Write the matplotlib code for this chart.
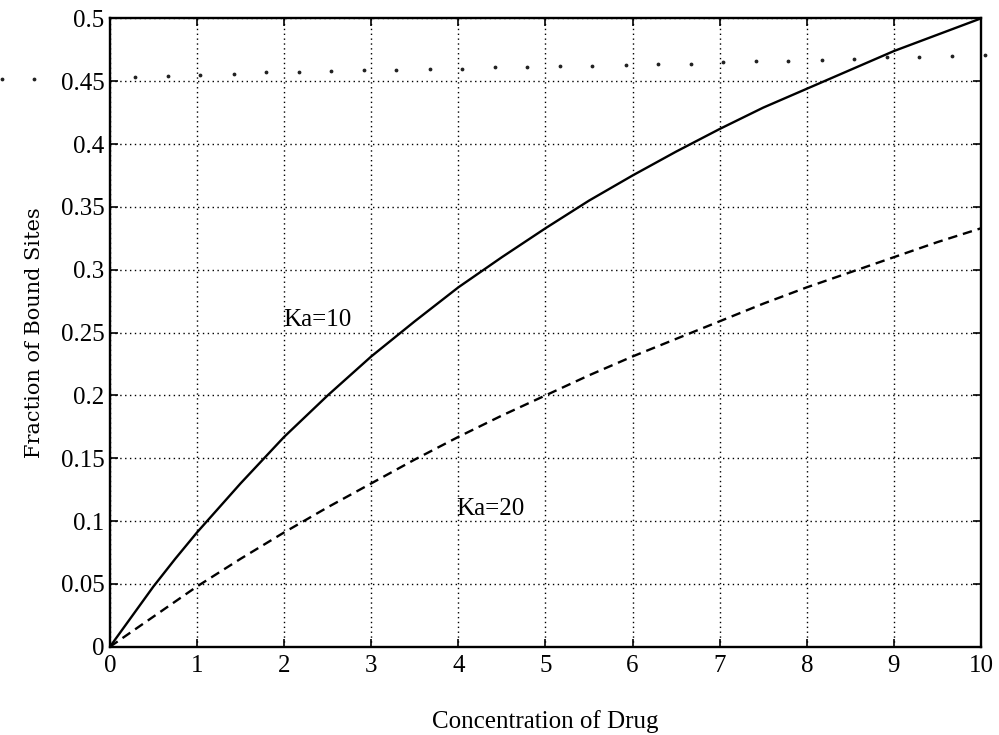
import matplotlib
matplotlib.use("Agg")
import matplotlib.pyplot as plt

# concentration values
conc = [0, 0.25, 0.5, 0.75, 1, 1.5, 2, 2.5, 3, 3.5, 4, 4.5, 5, 5.5, 6, 6.5, 7, 7.5, 8, 8.5, 9, 9.5, 10]
ka10 = [0, 0.024, 0.048, 0.070, 0.091, 0.130, 0.167, 0.200, 0.231, 0.259, 0.286, 0.310, 0.333,
        0.355, 0.375, 0.394, 0.412, 0.429, 0.444, 0.459, 0.474, 0.487, 0.5]
ka20 = [0, 0.012, 0.024, 0.036, 0.048, 0.070, 0.091, 0.111, 0.130, 0.149, 0.167, 0.184, 0.200,
        0.216, 0.231, 0.245, 0.259, 0.273, 0.286, 0.298, 0.310, 0.322, 0.333]

# stray row of dots near the top (scan artefact)
dot_x = [-1.24, -0.87, 0.29, 0.67, 1.04, 1.42, 1.79, 2.17, 2.54, 2.92, 3.29, 3.67,
         4.04, 4.42, 4.79, 5.17, 5.54, 5.92, 6.29, 6.67, 7.04, 7.42, 7.79, 8.17,
         8.54, 8.92, 9.29, 9.67, 10.04]
dot_y = [0.452, 0.452, 0.453, 0.454, 0.455, 0.456, 0.457, 0.457, 0.458, 0.459, 0.459, 0.460,
         0.460, 0.461, 0.461, 0.462, 0.462, 0.463, 0.464, 0.464, 0.465, 0.466, 0.466, 0.467,
         0.468, 0.469, 0.469, 0.470, 0.471]

xticks = [0, 1, 2, 3, 4, 5, 6, 7, 8, 9, 10]
yticks = [0, 0.05, 0.1, 0.15, 0.2, 0.25, 0.3, 0.35, 0.4, 0.45, 0.5]
ytick_labels = ["0", "0.05", "0.1", "0.15", "0.2", "0.25", "0.3", "0.35", "0.4", "0.45", "0.5"]

plt.rcParams['font.family'] = ['Liberation Serif', 'DejaVu Serif']

fig = plt.figure(figsize=(9.99, 7.35), dpi=100)
ax = fig.add_axes([0.110, 0.12, 0.872, 0.855])

ax.plot(conc, ka10, color='black', linewidth=1.7)
ax.plot(conc, ka20, color='black', linewidth=1.7, linestyle=(0, (4, 2.5)))
ax.scatter(dot_x, dot_y, s=3, color='#222222', clip_on=False, zorder=3)

ax.text(1.99, 0.26, "Ka=10", fontsize=18, va='center', ha='left')
ax.text(3.98, 0.11, "Ka=20", fontsize=18, va='center', ha='left')

ax.set_xlim(0, 10)
ax.set_ylim(0, 0.5)
ax.set_xticks(xticks)
ax.set_yticks(yticks)
ax.set_yticklabels(ytick_labels)
ax.tick_params(direction='in', length=6, width=1.2, labelsize=18,
               top=True, right=True)
ax.tick_params(axis='x', pad=6)
ax.tick_params(axis='y', pad=4)
ax.grid(True, color='black', linestyle=(0, (1, 2.5)), linewidth=1.0)
for sp in ax.spines.values():
    sp.set_linewidth(1.7)

ax.set_xlabel("Concentration of Drug", fontsize=18, labelpad=24)
ax.set_ylabel("Fraction of Bound Sites", fontsize=15, labelpad=12, family='DejaVu Serif')

fig.savefig("out.png", dpi=100)
